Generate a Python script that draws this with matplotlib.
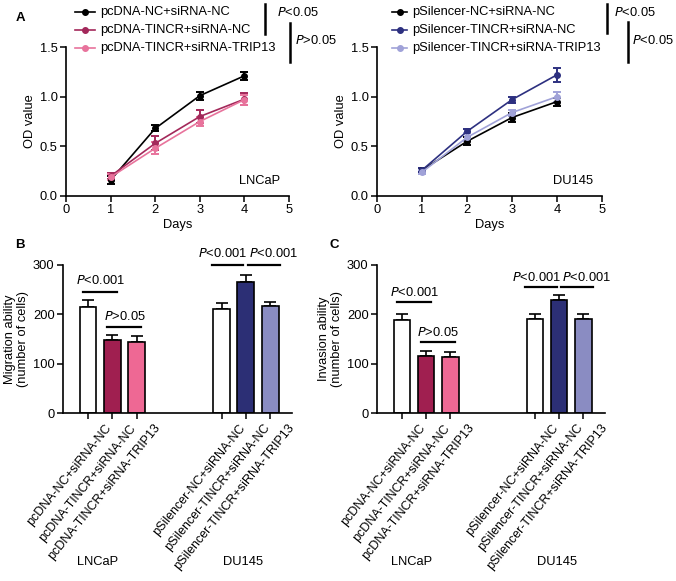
import matplotlib

matplotlib.use("Agg")
import matplotlib.pyplot as plt
from matplotlib.lines import Line2D
from matplotlib.transforms import blended_transform_factory, offset_copy

plt.rcParams["font.family"] = ["Liberation Sans", "DejaVu Sans"]
plt.rcParams["font.size"] = 9.3

W, H = 676, 581
FS = 9.3

# ---- data -------------------------------------------------------------
days = [1, 2, 3, 4]

lncap_labels = ["pcDNA-NC+siRNA-NC", "pcDNA-TINCR+siRNA-NC", "pcDNA-TINCR+siRNA-TRIP13"]
lncap_od = [[0.16, 0.68, 1.01, 1.21], [0.20, 0.53, 0.80, 0.975], [0.19, 0.48, 0.75, 0.97]]
lncap_od_err = [[0.04, 0.03, 0.04, 0.04], [0.03, 0.07, 0.07, 0.06], [0.03, 0.06, 0.05, 0.05]]

du145_labels = ["pSilencer-NC+siRNA-NC", "pSilencer-TINCR+siRNA-NC", "pSilencer-TINCR+siRNA-TRIP13"]
du145_od = [[0.26, 0.55, 0.79, 0.95], [0.26, 0.65, 0.97, 1.22], [0.24, 0.59, 0.84, 1.00]]
du145_od_err = [[0.02, 0.04, 0.05, 0.04], [0.02, 0.02, 0.03, 0.07], [0.02, 0.04, 0.03, 0.05]]

migration = [214, 148, 144, 210, 266, 216]
migration_err = [15, 10, 12, 13, 14, 10]
invasion = [189, 116, 113, 191, 229, 190]
invasion_err = [12, 10, 11, 9, 10, 10]

bar_labels = lncap_labels + du145_labels
bar_pos = [0, 1, 2, 5.5, 6.5, 7.5]

LNCAP_LINE = ["black", "#A3285A", "#E8739C"]
DU_LINE = ["black", "#2D3080", "#A0A2D8"]
BAR_COLORS = ["white", "#A01F50", "#EE6894", "white", "#2C2F75", "#8A8CC2"]


def fx(x):
    return x / W


def fy(y):
    return 1 - y / H


def ax_at(fig, x0, x1, ytop, ybot):
    return fig.add_axes([fx(x0), fy(ybot), fx(x1 - x0), (ybot - ytop) / H])


def style(ax):
    ax.spines[["top", "right"]].set_visible(False)
    ax.spines[["left", "bottom"]].set_linewidth(1.2)
    ax.tick_params(width=1.1, length=4, labelsize=FS, pad=2)


def fig_line(fig, xs, ys, **kw):
    fig.add_artist(Line2D([fx(x) for x in xs], [fy(y) for y in ys],
                          transform=fig.transFigure, **kw))


def p_text(fig, x, y, rel, val):
    fig.text(fx(x), fy(y), f"$\\it{{P}}${rel}{val}", ha="left", va="center", fontsize=FS)


fig = plt.figure(figsize=(W / 100, H / 100), dpi=100)

# ---- panel A ----------------------------------------------------------
for (x0, x1, means, errs, colors, cell) in [
    (66, 289, lncap_od, lncap_od_err, LNCAP_LINE, "LNCaP"),
    (377, 602, du145_od, du145_od_err, DU_LINE, "DU145"),
]:
    ax = ax_at(fig, x0, x1, 47, 196)
    for m, e, c in zip(means, errs, colors):
        ax.errorbar(days, m, yerr=e, color=c, marker="o", markersize=4,
                    linewidth=1.2, elinewidth=1.4, capsize=3, capthick=1.4)
    ax.set_xlim(0, 5)
    ax.set_ylim(0, 1.5)
    ax.set_xticks([0, 1, 2, 3, 4, 5])
    ax.set_yticks([0.0, 0.5, 1.0, 1.5])
    ax.set_yticklabels(["0.0", "0.5", "1.0", "1.5"])
    ax.set_ylabel("OD value", labelpad=3)
    ax.set_xlabel("Days", labelpad=2)
    ax.text(4.8, 0.15, cell, ha="right", va="center", fontsize=FS)
    style(ax)

# legends for A (drawn in figure pixels)
for (hx0, hx1, tx, labels, colors) in [
    (75, 95, 100, lncap_labels, LNCAP_LINE),
    (392, 407, 412, du145_labels, DU_LINE),
]:
    for y, lab, c in zip([12, 30, 48], labels, colors):
        fig_line(fig, [hx0, (hx0 + hx1) / 2, hx1], [y, y, y], color=c, linewidth=1.2,
                 marker="o", markersize=4, markevery=[1])
        fig.text(fx(tx), fy(y), lab, ha="left", va="center", fontsize=FS)

fig_line(fig, [265, 265], [4, 34], color="black", linewidth=1.8)
p_text(fig, 277, 12, "<", "0.05")
fig_line(fig, [290, 290], [23, 62], color="black", linewidth=1.8)
p_text(fig, 295, 40, ">", "0.05")
fig_line(fig, [607, 607], [4, 33], color="black", linewidth=1.8)
p_text(fig, 614, 12, "<", "0.05")
fig_line(fig, [628, 628], [22, 62], color="black", linewidth=1.8)
p_text(fig, 632, 40, "<", "0.05")

# ---- panels B and C ---------------------------------------------------
panels = [
    (63, 292, migration, migration_err, "Migration ability\n(number of cells)",
     [(0, 1, 246, 268, "<0.001"), (1, 2, 175, 196, ">0.05")], 300, 324),
    (377, 605, invasion, invasion_err, "Invasion ability\n(number of cells)",
     [(0, 1, 224, 244, "<0.001"), (1, 2, 143, 164, ">0.05")], 256, 275),
]
for (x0, x1, vals, errs, ylab, lncap_sig, du_line_y, du_text_y) in panels:
    ax = ax_at(fig, x0, x1, 265, 413)
    ax.bar(bar_pos, vals, width=0.69, color=BAR_COLORS, edgecolor="black",
           linewidth=1.2, zorder=2)
    ax.errorbar(bar_pos, vals, yerr=[[0] * len(errs), errs], fmt="none",
                ecolor="black", elinewidth=1.2, capsize=4, capthick=1.2, zorder=1)
    ax.set_xlim(-1.03, 8.4)
    ax.set_ylim(0, 300)
    ax.set_yticks([0, 100, 200, 300])
    ax.set_xticks(bar_pos)
    shifted = offset_copy(ax.transData, fig=fig, x=17, y=-9, units="dots")
    ax.set_xticklabels([])
    for p, lab in zip(bar_pos, bar_labels):
        ax.text(p, 0, lab, rotation=51, ha="right", va="top", rotation_mode="anchor",
                transform=shifted, fontsize=9.0)
    ax.set_ylabel(ylab, labelpad=3, linespacing=1.1)
    style(ax)

    for a, b, ly, ty, val in lncap_sig:
        ax.plot([a - 0.2, b + 0.2], [ly, ly], color="black", linewidth=1.6, clip_on=False)
        ax.text((a + b) / 2, ty, f"$\\it{{P}}$" + val, ha="center", va="center", fontsize=FS)
    for a, b in [(5.5, 6.5), (6.5, 7.5)]:
        ax.plot([a - 0.4, b - 0.1] if a == 5.5 else [a + 0.1, b + 0.4],
                [du_line_y, du_line_y], color="black", linewidth=1.6, clip_on=False)
    ax.text(5.55, du_text_y, "$\\it{P}$<0.001", ha="center", va="center", fontsize=FS)
    ax.text(7.65, du_text_y, "$\\it{P}$<0.001", ha="center", va="center", fontsize=FS)

    grp = blended_transform_factory(ax.transData, fig.transFigure)
    ax.text(0.4, fy(562), "LNCaP", transform=grp, ha="center", va="center", fontsize=FS)
    ax.text(6.4, fy(562), "DU145", transform=grp, ha="center", va="center", fontsize=FS)

# panel letters
fig.text(fx(20), fy(18), "A", fontweight="bold", fontsize=9.5, ha="center", va="center")
fig.text(fx(20), fy(245), "B", fontweight="bold", fontsize=9.5, ha="center", va="center")
fig.text(fx(334), fy(245), "C", fontweight="bold", fontsize=9.5, ha="center", va="center")

fig.savefig("out.png", dpi=100)
